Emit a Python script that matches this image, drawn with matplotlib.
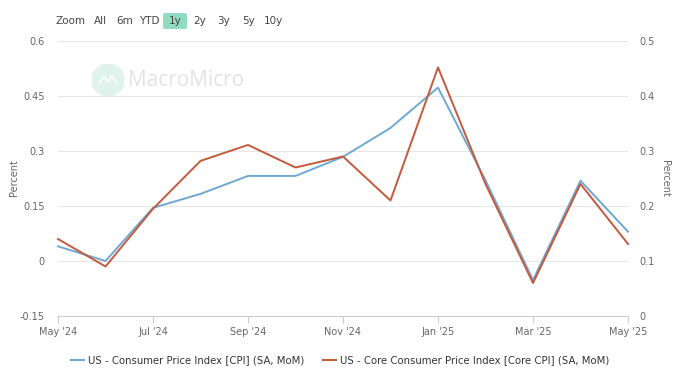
import matplotlib
matplotlib.use("Agg")
import matplotlib.pyplot as plt
from matplotlib.patches import FancyBboxPatch, Circle

months = ["May '24", "Jun '24", "Jul '24", "Aug '24", "Sep '24", "Oct '24", "Nov '24",
          "Dec '24", "Jan '25", "Feb '25", "Mar '25", "Apr '25", "May '25"]
cpi = [0.04, 0.00, 0.145, 0.183, 0.232, 0.232, 0.284, 0.363, 0.473, 0.22, -0.052, 0.219, 0.08]
core = [0.14, 0.09, 0.195, 0.282, 0.311, 0.27, 0.29, 0.21, 0.452, 0.24, 0.06, 0.24, 0.131]
left_ticks = [-0.15, 0, 0.15, 0.3, 0.45, 0.6]
left_labels = ["-0.15", "0", "0.15", "0.3", "0.45", "0.6"]
right_ticks = [0, 0.1, 0.2, 0.3, 0.4, 0.5]
right_labels = ["0", "0.1", "0.2", "0.3", "0.4", "0.5"]
x_tick_idx = [0, 2, 4, 6, 8, 10, 12]
buttons = ["Zoom", "All", "6m", "YTD", "1y", "2y", "3y", "5y", "10y"]
cpi_name = "US - Consumer Price Index [CPI] (SA, MoM)"
core_name = "US - Core Consumer Price Index [Core CPI] (SA, MoM)"

BLUE = "#6fa8d1"
RED = "#c35a3e"
GRAY = "#666666"
GRID = "#e6e6e6"

W, H = 680, 381
fig = plt.figure(figsize=(6.8, 3.81), dpi=100)
fig.patch.set_facecolor("white")

def fx(px): return px / W
def fy(py): return 1 - py / H

ax = fig.add_axes([fx(58), fy(316), fx(628) - fx(58), fy(41) - fy(316)])
ax2 = ax.twinx()

x = list(range(len(months)))
ax.set_xlim(0, 12)
ax.set_ylim(-0.15, 0.6)
ax2.set_ylim(0, 0.5)

for a in (ax, ax2):
    for s in a.spines.values():
        s.set_visible(False)
ax.spines["bottom"].set_visible(True)
ax.spines["bottom"].set_color("#cccccc")
ax.spines["bottom"].set_linewidth(0.8)

ax.set_yticks(left_ticks)
ax.set_yticklabels(left_labels)
ax2.set_yticks(right_ticks)
ax2.set_yticklabels(right_labels)
ax.tick_params(axis="y", length=0, labelsize=7, labelcolor=GRAY, pad=9.4)
ax2.tick_params(axis="y", length=0, labelsize=7, labelcolor=GRAY, pad=8)
ax.set_xticks(x_tick_idx)
ax.set_xticklabels([months[i] for i in x_tick_idx])
ax.tick_params(axis="x", length=5, direction="out", color="#cccccc", labelsize=7, labelcolor=GRAY, pad=3)

ax.grid(axis="y", color=GRID, linewidth=0.8)
ax.set_axisbelow(True)
fig.text(fx(14), fy(178), "Percent", fontsize=7, color=GRAY, rotation=90, ha="center", va="center")
fig.text(fx(665), fy(178), "Percent", fontsize=7, color=GRAY, rotation=270, ha="center", va="center")

ax.plot(x, cpi, color=BLUE, linewidth=1.4, clip_on=False, zorder=3)
ax2.plot(x, core, color=RED, linewidth=1.4, clip_on=False, zorder=3)

# Watermark
logo_ax = fig.add_axes([fx(92), fy(96), fx(32), fy(64) - fy(96)])
logo_ax.set_xlim(-1, 1); logo_ax.set_ylim(-1, 1); logo_ax.set_aspect("equal")
logo_ax.axis("off")
logo_ax.add_patch(Circle((0, 0), 1, color="#dff3ec"))
logo_ax.plot([-0.55, -0.25, 0.0, 0.25, 0.55], [-0.2, 0.2, -0.1, 0.25, -0.15], color="white", lw=1.2)
fig.text(fx(128), fy(80), "MacroMicro", fontsize=15, color="#e3e3e3", va="center", ha="left",
         fontfamily="Open Sans")

# Range buttons
btn_x = [70, 100, 125, 149, 175, 200, 224, 249, 273]
fig.patches.append(FancyBboxPatch((fx(163), fy(29)), fx(24), fy(13) - fy(29),
                                  boxstyle="round,pad=0,rounding_size=0.004",
                                  transform=fig.transFigure, facecolor="#8fdcc1", edgecolor="none"))
for b, bx in zip(buttons, btn_x):
    fig.text(fx(bx), fy(21), b, fontsize=7.5, color="#444444", ha="center", va="center")

# Legend
fig.add_artist(plt.Line2D([fx(71), fx(84)], [fy(360), fy(360)], color=BLUE, lw=1.5, transform=fig.transFigure))
fig.text(fx(88), fy(360), cpi_name, fontsize=7.3, color="#333333", va="center", ha="left")
fig.add_artist(plt.Line2D([fx(323), fx(336)], [fy(360), fy(360)], color=RED, lw=1.5, transform=fig.transFigure))
fig.text(fx(340), fy(360), core_name, fontsize=7.3, color="#333333", va="center", ha="left")

fig.savefig("out.png", dpi=100)
